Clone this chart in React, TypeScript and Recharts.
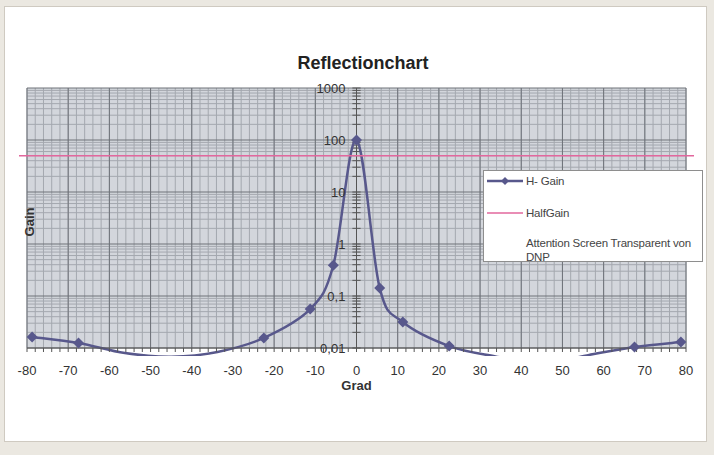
import { LineChart, Line, XAxis, YAxis, CartesianGrid, ReferenceLine, Legend } from 'recharts'

// measured angles (Grad) and gain for the H-Gain curve; the points below 0,01 sit under the axis
const gradValues = [-78.75, -67.5, -56.25, -45, -33.75, -22.5, -11.25, -5.625, 0, 5.625, 11.25, 22.5, 33.75, 45, 56.25, 67.5, 78.75]
const gainValues = [0.0163, 0.0125, 0.008, 0.0068, 0.0084, 0.0156, 0.056, 0.39, 100, 0.143, 0.0316, 0.0109, 0.0069, 0.005, 0.0073, 0.0105, 0.013]

const halfGainGrad = [-90, 90]
const halfGainValue = 50

const decades = [0.01, 0.1, 1, 10, 100, 1000]
const decadeLabels = ['0,01', '0,1', '1', '10', '100', '1000']
const minorSteps = [2, 3, 4, 5, 6, 7, 8, 9]
const gradLabelTicks = [-80, -70, -60, -50, -40, -30, -20, -10, 0, 10, 20, 30, 40, 50, 60, 70, 80]
const gradTicks = Array.from({ length: 81 }, (_, i) => -80 + i * 2)

const seriesNames = ['H- Gain', 'HalfGain', 'Attention Screen Transparent von DNP']

const hGainData = gradValues.map((grad, i) => ({ grad, gain: gainValues[i] }))
const halfGainData = halfGainGrad.map((grad) => ({ grad, gain: halfGainValue }))
const minorValues = decades.slice(0, -1).flatMap((d) => minorSteps.map((m) => d * m))

const W = 714
const H = 455
const margin = { top: 88, right: 28, bottom: 66, left: 0 }
const yAxisWidth = 27
const xAxisHeight = 41
const plotLeft = margin.left + yAxisWidth
const plotWidth = W - plotLeft - margin.right
const plotHeight = H - margin.top - margin.bottom - xAxisHeight
const overflow = 8

const purple = '#58588c'
const pink = '#e2679d'
const font = '"Liberation Sans", Arial, Helvetica, sans-serif'

// smoothed line like Excel: bezier segments with catmull-rom style tangents
function excelCurve(context: any) {
  let pts: number[][] = []
  return {
    areaStart() {},
    areaEnd() {},
    lineStart() {
      pts = []
    },
    point(x: number, y: number) {
      pts.push([+x, +y])
    },
    lineEnd() {
      if (!pts.length) return
      context.moveTo(pts[0][0], pts[0][1])
      for (let i = 0; i < pts.length - 1; i++) {
        const p0 = pts[i - 1] || pts[i]
        const p1 = pts[i]
        const p2 = pts[i + 1]
        const p3 = pts[i + 2] || pts[i + 1]
        context.bezierCurveTo(
          p1[0] + (p2[0] - p0[0]) / 6,
          p1[1] + (p2[1] - p0[1]) / 6,
          p2[0] - (p3[0] - p1[0]) / 6,
          p2[1] - (p3[1] - p1[1]) / 6,
          p2[0],
          p2[1]
        )
      }
    },
  }
}

const renderDiamond = (props: any) => {
  const { cx, cy, payload, index } = props
  if (cx == null || cy == null || payload.gain < decades[0]) return <g key={`dot-${index}`} />
  const r = 5.5
  return (
    <path
      key={`dot-${index}`}
      d={`M${cx},${cy - r}L${cx + r},${cy}L${cx},${cy + r}L${cx - r},${cy}Z`}
      fill={purple}
    />
  )
}

function LegendBox({ payload }: any) {
  const items = [...(payload || [])].sort(
    (a: any, b: any) => seriesNames.indexOf(a.value) - seriesNames.indexOf(b.value)
  )
  const rowTop = [3, 35, 65]
  return (
    <div
      style={{
        width: 220,
        height: 92,
        boxSizing: 'border-box',
        border: '1px solid #8e8e8e',
        background: '#fff',
        position: 'relative',
        fontSize: 11.5,
        lineHeight: '14px',
        color: '#444',
        fontFamily: font,
      }}
    >
      {items.map((entry: any, i: number) => (
        <div key={entry.value} style={{ position: 'absolute', left: 2, top: rowTop[i], display: 'flex' }}>
          <svg width={38} height={14} style={{ flex: 'none' }}>
            {entry.value === seriesNames[0] && (
              <>
                <line x1={1} y1={7} x2={37} y2={7} stroke={purple} strokeWidth={2.5} />
                <path d="M19,3L23,7L19,11L15,7Z" fill={purple} />
              </>
            )}
            {entry.value === seriesNames[1] && <line x1={1} y1={7} x2={37} y2={7} stroke={pink} strokeWidth={1.5} />}
          </svg>
          <span style={{ marginLeft: 2, width: 176, letterSpacing: -0.2 }}>{entry.value}</span>
        </div>
      ))}
    </div>
  )
}

export default function App() {
  return (
    <div
      style={{
        position: 'fixed',
        left: 0,
        top: 0,
        width: W,
        height: H,
        background: '#ebe8e1',
        fontFamily: font,
        overflow: 'hidden',
      }}
    >
      <style>{`
        .recharts-line, .recharts-line-curve { clip-path: url(#wideClip); }
        .recharts-line-dots { clip-path: none; }
      `}</style>
      <svg width={0} height={0} style={{ position: 'absolute' }}>
        <defs>
          <clipPath id="wideClip" clipPathUnits="userSpaceOnUse">
            <rect
              x={plotLeft - overflow}
              y={margin.top - overflow}
              width={plotWidth + overflow * 2}
              height={plotHeight + overflow * 2}
            />
          </clipPath>
        </defs>
      </svg>
      <div
        style={{
          position: 'absolute',
          left: 4,
          top: 6,
          width: 701,
          height: 434,
          background: '#fff',
          border: '1px solid #cfcac1',
        }}
      />
      <div
        style={{
          position: 'absolute',
          left: 6,
          top: 54,
          width: W,
          textAlign: 'center',
          fontSize: 18,
          lineHeight: '18px',
          fontWeight: 'bold',
          color: '#222',
        }}
      >
        Reflectionchart
      </div>
      <div style={{ position: 'absolute', left: 0, top: 0 }}>
        <LineChart width={W} height={H} margin={margin}>
          <CartesianGrid
            fill="#d3d6dc"
            fillOpacity={1}
            stroke="#a4a8af"
            horizontalValues={minorValues}
            verticalValues={gradTicks}
            vertical={{ stroke: '#8b9096' }}
          />
          <CartesianGrid
            stroke="#6e7279"
            horizontalValues={decades}
            verticalValues={gradLabelTicks}
            vertical={{ stroke: '#7d8288' }}
          />
          <XAxis
            type="number"
            dataKey="grad"
            domain={[-80, 80]}
            allowDataOverflow
            ticks={gradTicks}
            interval={0}
            tickFormatter={(v: number) => (v % 10 === 0 ? String(v) : '')}
            tick={{ fill: '#333', fontSize: 13 }}
            tickLine={{ stroke: '#555' }}
            tickSize={4}
            tickMargin={14}
            axisLine={{ stroke: '#555' }}
            height={xAxisHeight}
            label={{ value: 'Grad', position: 'insideBottom', offset: -1, fill: '#333', fontSize: 13, fontWeight: 'bold' }}
          />
          <YAxis
            type="number"
            scale="log"
            domain={[decades[0], decades[decades.length - 1]]}
            allowDataOverflow
            ticks={decades}
            interval={0}
            tick={() => <g />}
            tickLine={false}
            axisLine={false}
            width={yAxisWidth}
            label={{ value: 'Gain', angle: -90, position: 'center', dx: 15.5, dy: 4, fill: '#333', fontSize: 13, fontWeight: 'bold' }}
          />
          <ReferenceLine x={0} stroke="#555" />
          {minorValues.map((v) => (
            <ReferenceLine key={`minor-${v}`} segment={[{ x: -1, y: v }, { x: 1, y: v }]} stroke="#555" />
          ))}
          {decades.map((v, i) => (
            <ReferenceLine
              key={`major-${v}`}
              segment={[{ x: -1, y: v }, { x: 1, y: v }]}
              stroke="#555"
              label={{ value: decadeLabels[i], position: 'left', offset: 7, fill: '#333', fontSize: 13 }}
            />
          ))}
          <Line
            data={hGainData}
            dataKey="gain"
            name={seriesNames[0]}
            type={excelCurve as any}
            stroke={purple}
            strokeWidth={2.5}
            dot={renderDiamond}
            activeDot={false}
            isAnimationActive={false}
          />
          <Line
            data={halfGainData}
            dataKey="gain"
            name={seriesNames[1]}
            type="linear"
            stroke={pink}
            strokeWidth={1.5}
            dot={false}
            activeDot={false}
            isAnimationActive={false}
          />
          <Line
            data={[]}
            dataKey="gain"
            name={seriesNames[2]}
            stroke="none"
            dot={false}
            activeDot={false}
            isAnimationActive={false}
          />
          <Legend
            layout="vertical"
            align="center"
            verticalAlign="middle"
            content={<LegendBox />}
            wrapperStyle={{ left: 483, top: 170, width: 220, height: 92 }}
          />
        </LineChart>
      </div>
    </div>
  )
}
